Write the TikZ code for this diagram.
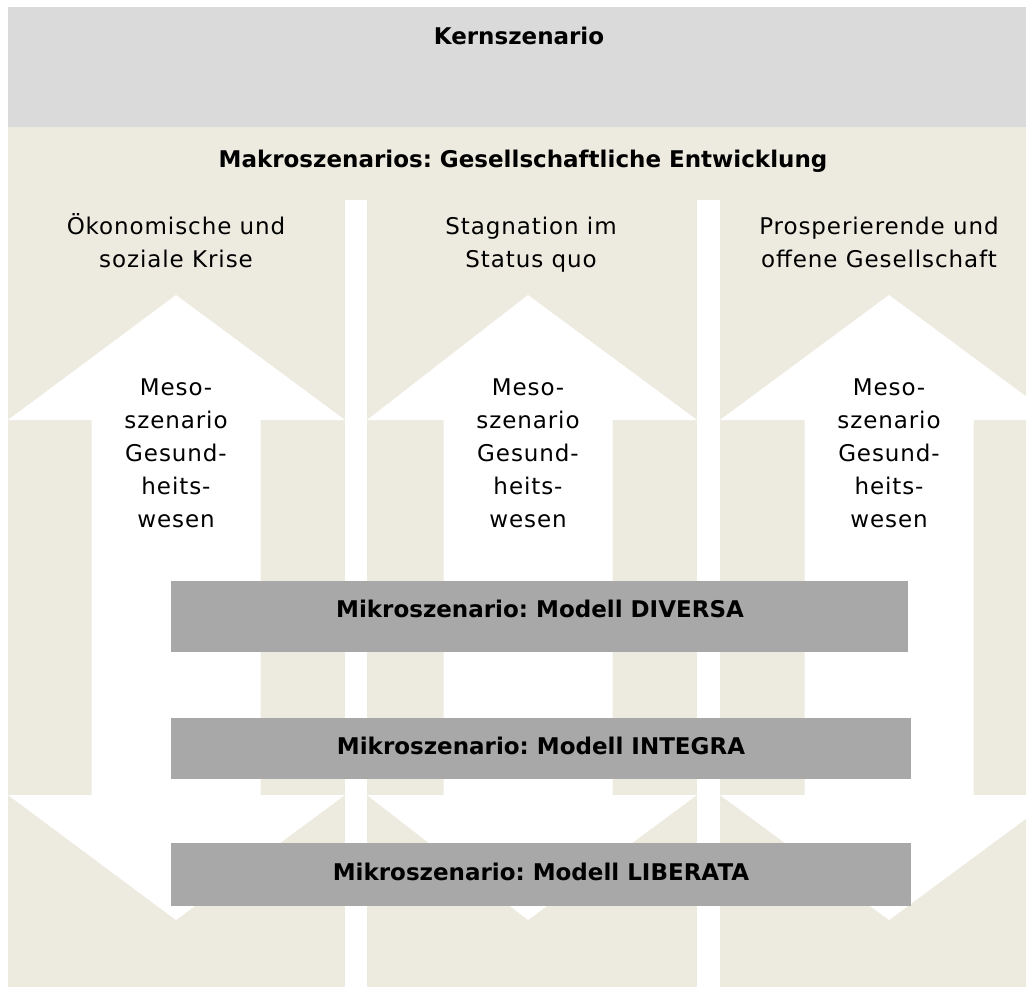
\documentclass[tikz,border=0pt]{standalone}
\usepackage{fontspec}
\setmainfont{DejaVu Sans}[LetterSpace=4, BoldFeatures={LetterSpace=0}]
\frenchspacing
\definecolor{kerngrey}{HTML}{DADADA}
\definecolor{makrobeige}{HTML}{EDEBE0}
\definecolor{mikrogrey}{HTML}{A8A8A8}

\begin{document}
\begin{tikzpicture}[x=0.5pt, y=-0.5pt,
title/.style={font=\fontsize{11.5}{16.5}\selectfont, align=center, anchor=base, inner sep=0pt},
head/.style={font=\fontsize{11.5}{16.5}\selectfont\bfseries, anchor=base, inner sep=0pt},
mikrobox/.style={fill=mikrogrey}
]
\useasboundingbox (0,0) rectangle (1026,995);
\clip (0,0) rectangle (1026,995);
%Background
\fill[kerngrey]   (8,7)   rectangle (1058,127);
\fill[makrobeige] (8,127) rectangle (1058,987);
\fill[white] (345,200) rectangle (367,987);
\fill[white] (697,200) rectangle (720,987);
%Arrows
\foreach \l/\c/\r in {8/176/345, 367/528/697, 720/889/1058}
  \fill[white] (\c,295) -- (\r,420) -- (\c+84.5,420) -- (\c+84.5,795) -- (\r,795)
    -- (\c,920) -- (\l,795) -- (\c-84.5,795) -- (\c-84.5,420) -- (\l,420) -- cycle;
%Mikro boxes
\fill[mikrobox] (171,581) rectangle (908,652);
\fill[mikrobox] (171,718) rectangle (911,779);
\fill[mikrobox] (171,843) rectangle (911,906);
%Nodes
\node[head]  (kern)    at (519,45)  {Kernszenario};
\node[head]  (makro)   at (523,167) {Makroszenarios: Gesellschaftliche Entwicklung};
\node[title] (krise)   at (176,267) {Ökonomische und\\soziale Krise};
\node[title] (stagn)   at (531,267) {Stagnation im\\Status quo};
\node[title] (prosp)   at (879,267) {Prosperierende und\\offene Gesellschaft};
\node[title] (meso1)   at (176,527) {Meso-\\szenario\\Gesund-\\heits-\\wesen};
\node[title] (meso2)   at (528,527) {Meso-\\szenario\\Gesund-\\heits-\\wesen};
\node[title] (meso3)   at (889,527) {Meso-\\szenario\\Gesund-\\heits-\\wesen};
\node[head]  (diversa) at (540,617) {Mikroszenario: Modell DIVERSA};
\node[head]  (integra) at (541,754) {Mikroszenario: Modell INTEGRA};
\node[head]  (libera)  at (541,880) {Mikroszenario: Modell LIBERATA};
\end{tikzpicture}
\end{document}
